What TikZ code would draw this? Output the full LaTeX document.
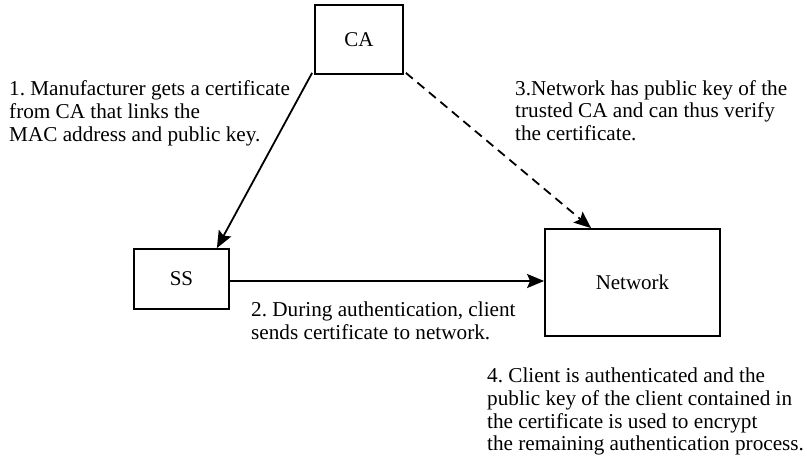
\documentclass[tikz,border=0pt]{standalone}
\usepackage{fontspec}
\setmainfont{Liberation Serif}
\usetikzlibrary{arrows.meta}
\frenchspacing
\begin{document}
\begin{tikzpicture}[x=1pt,y=-1pt,
  box/.style={draw,line width=1.8pt,inner sep=0pt,font=\fontsize{21}{23}\selectfont},
  note/.style={anchor=north west,inner sep=0pt,align=left,font=\fontsize{21.2}{22.8}\selectfont\frenchspacing},
  arr/.style={line width=1.8pt,-{Stealth[length=17pt,width=14pt,inset=3pt]}}]
\useasboundingbox (0,0) rectangle (807,464);
\node[box,minimum width=88pt,minimum height=69pt] (CA) at (359,39.5) {CA};
\node[box,minimum width=95pt,minimum height=60pt] (SS) at (181.5,279) {SS};
\node[box,minimum width=175pt,minimum height=107pt] (NW) at (632.5,282.5) {Network};
\node[note] (t1) at (9,80.5) {1. Manufacturer gets a certificate\\from CA that links the\\MAC address and public key.};
\node[note] (t3) at (515,80) {3.Network has public key of the\\trusted CA and can thus verify\\the certificate.};
\node[note] (t2) at (251,301.5) {2. During authentication, client\\sends certificate to network.};
\node[note] (t4) at (487,367.5) {4. Client is authenticated and the\\public key of the client contained in\\the certificate is used to encrypt\\the remaining authentication process.};
\draw[arr] ([shift={(-2pt,2pt)}]CA.south west) -- ([xshift=-13pt]SS.north east);
\draw[arr,dashed,dash pattern=on 9pt off 6pt] ([shift={(2pt,2pt)}]CA.south east) -- ([xshift=47pt]NW.north west);
\draw[arr] (SS.east |- 0,281) -- (NW.west |- 0,281);
\end{tikzpicture}
\end{document}
